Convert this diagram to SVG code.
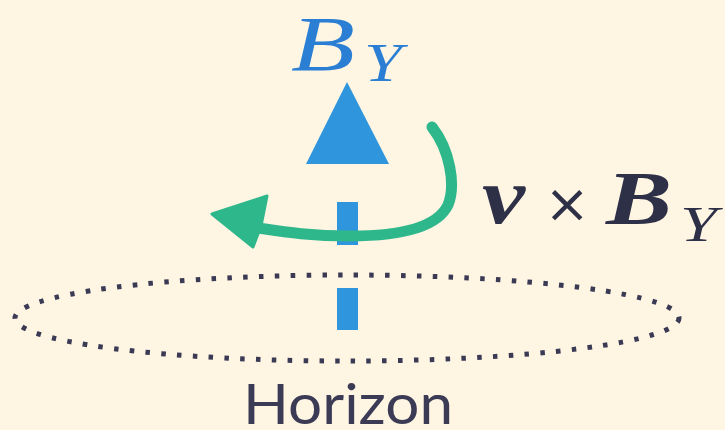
<svg xmlns="http://www.w3.org/2000/svg" width="725" height="430" viewBox="0 0 725 430">
<style>
.blue{fill:#2f96dd}
.math{font-family:"Liberation Serif","DejaVu Serif",serif;font-style:italic}
.ink{fill:#2e3048}
</style>
<rect width="725" height="430" fill="#fef5e3"/>
<g id="horizon">
<ellipse cx="347" cy="318" rx="332" ry="43" fill="none" stroke="#3a3a55" stroke-width="5" stroke-dasharray="4.5 11.3"/>
<text x="348" y="424" text-anchor="middle" font-family="Lato,'DejaVu Sans',sans-serif" font-size="57" fill="#3b3b55" textLength="210" lengthAdjust="spacingAndGlyphs">Horizon</text>
</g>
<g id="field">
<rect class="blue" x="337" y="288" width="21" height="42"/>
<rect class="blue" x="337" y="202" width="21" height="43"/>
<polygon class="blue" points="347,82 306,164 389,164"/>
<text class="math" x="291" y="70" font-size="78" fill="#2a7fd5" textLength="64" lengthAdjust="spacingAndGlyphs">B</text>
<text class="math" x="364" y="81" font-size="54" fill="#2a7fd5" textLength="38" lengthAdjust="spacingAndGlyphs">Y</text>
</g>
<g id="connectors">
<path d="M432,127 C450,150 456,185 448,205 C437,228 400,236 350,236 C310,236 285,232 258,228" fill="none" stroke="#2fb78c" stroke-width="11" stroke-linecap="round"/>
<polygon points="212,214 267,196 261,226 253,247" fill="#2fb78c" stroke="#2fb78c" stroke-width="3" stroke-linejoin="round"/>
</g>
<g id="label">
<text class="math ink" x="482" y="223" font-size="80" font-weight="bold" textLength="43" lengthAdjust="spacingAndGlyphs">v</text>
<text class="ink" x="567" y="222" text-anchor="middle" font-family="'DejaVu Sans',sans-serif" font-size="54">×</text>
<text class="math ink" x="606" y="224" font-size="76" font-weight="bold" textLength="66" lengthAdjust="spacingAndGlyphs">B</text>
<text class="math ink" x="680" y="241" font-size="50" textLength="37" lengthAdjust="spacingAndGlyphs">Y</text>
</g>
</svg>
